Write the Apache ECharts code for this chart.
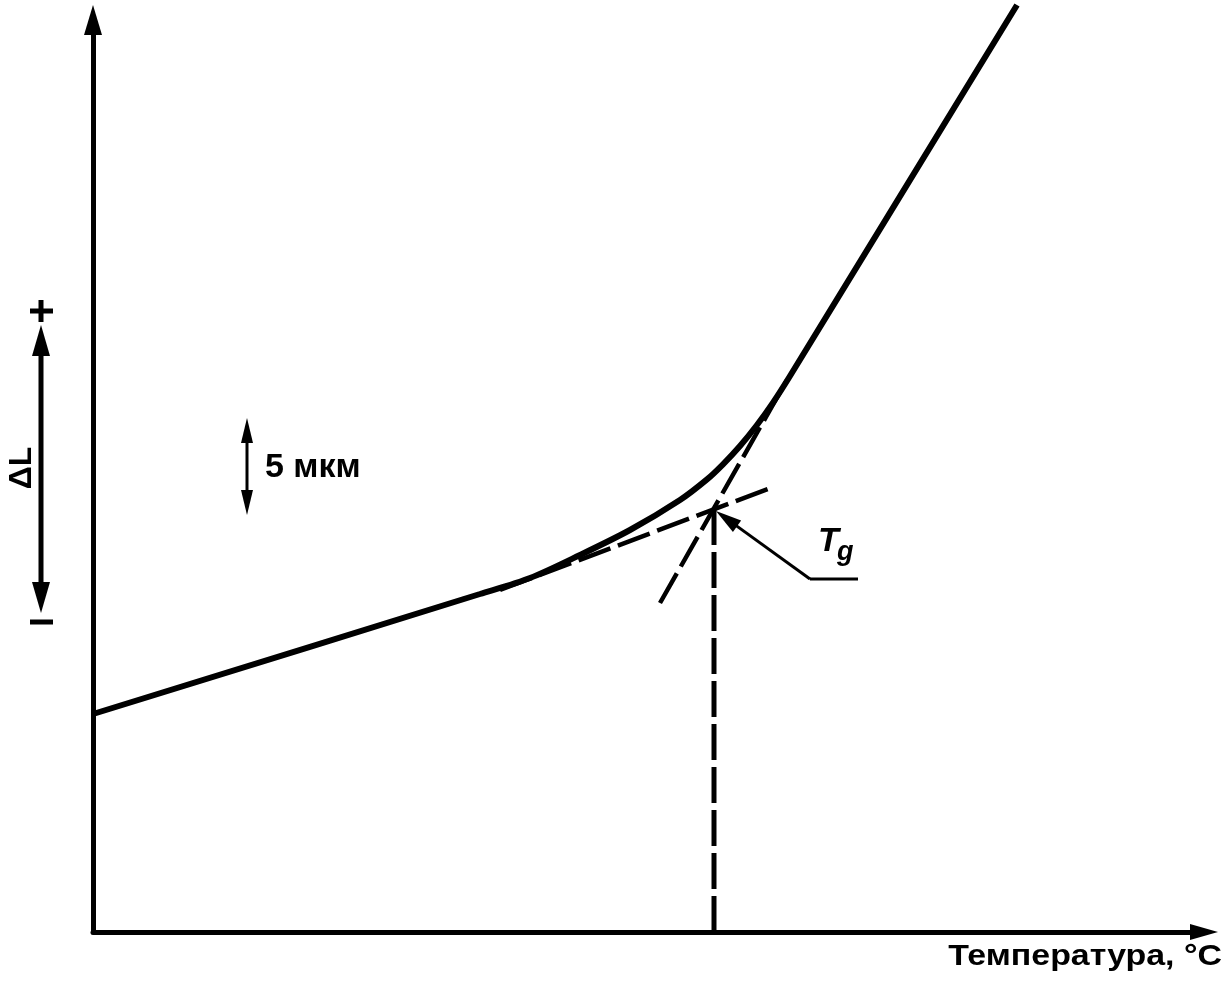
<!DOCTYPE html>
<html>
<head>
<meta charset="utf-8">
<script src="https://cdn.jsdelivr.net/npm/echarts@6/dist/echarts.min.js"></script>
<style>
html,body{margin:0;padding:0;background:#fff;}
#chart{width:1232px;height:988px;}
</style>
</head>
<body>
<div id="chart"></div>
<script>
// Temperature (arbitrary units along the axis) and length change ΔL (arbitrary units)
const temperature = [0, 387, 437, 487, 537, 587, 614, 630, 647, 664, 680, 697, 924];
const deltaL      = [218, 338, 354, 377, 402, 432, 452.6, 467.7, 486, 507, 529.4, 556, 927];
// Tangent lines (dashed)
const glassyTangentT = [407, 680];
const glassyTangentL = [342, 445];
const rubberyTangentT = [567, 694];
const rubberyTangentL = [329, 552];
// Glass transition point
const tgT = 621;
const tgL = 422;
// Label leader
const leaderT = [717, 765];
const leaderL = [353, 353];
const arrowEndT = 633.5, arrowEndL = 413.4;

const xAxisTitle = 'Температура, °C';
const yAxisTitle = 'ΔL';
const scaleLabel = '5 мкм';

const zip = (a, b) => a.map((v, i) => [v, b[i]]);

const chart = echarts.init(document.getElementById('chart'));
const black = '#000';
const FONT = '"Liberation Sans", Arial, sans-serif';
chart.setOption({
  animation: false,
  backgroundColor: '#fff',
  grid: { left: 93, right: 28, top: 20, bottom: 56 },
  xAxis: {
    type: 'value', min: 0, max: 1111,
    axisLine: { show: true, onZero: false, symbol: ['none', 'triangle'], symbolSize: [16, 28],
      lineStyle: { color: black, width: 5 } },
    axisTick: { show: false }, axisLabel: { show: false }, splitLine: { show: false }
  },
  yAxis: {
    type: 'value', min: 0, max: 912,
    axisLine: { show: true, onZero: false, symbol: ['none', 'triangle'], symbolSize: [18, 30],
      lineStyle: { color: black, width: 5 } },
    axisTick: { show: false }, axisLabel: { show: false }, splitLine: { show: false }
  },
  series: [
    {
      type: 'line', data: zip(glassyTangentT, glassyTangentL), showSymbol: false,
      lineStyle: { color: black, width: 4.5, type: [34, 8] }, silent: true
    },
    {
      type: 'line', data: zip(rubberyTangentT, rubberyTangentL), showSymbol: false,
      lineStyle: { color: black, width: 4.5, type: [34, 8] }, silent: true
    },
    {
      type: 'line', data: [[tgT, 0], [tgT, tgL]], showSymbol: false,
      lineStyle: { color: black, width: 5, type: [36, 7] }, silent: true
    },
    {
      type: 'line', data: zip(temperature, deltaL), showSymbol: false, clip: false,
      smooth: 0.3, lineStyle: { color: black, width: 6 }, silent: true, z: 5
    },
    {
      type: 'line', data: zip(leaderT, leaderL), showSymbol: false,
      lineStyle: { color: black, width: 3 }, silent: true,
      markLine: {
        silent: true, animation: false,
        symbol: ['none', 'triangle'], symbolSize: [14, 26],
        label: { show: false },
        lineStyle: { color: black, width: 3, type: 'solid' },
        data: [[{ coord: [leaderT[0], leaderL[0]] }, { coord: [arrowEndT, arrowEndL] }]]
      }
    }
  ],
  graphic: [
    // x axis title
    { type: 'text', x: 1222, y: 957, scaleX: 1.13,
      style: { text: xAxisTitle, fill: black,
      font: 'bold 30px ' + FONT, align: 'right', verticalAlign: 'middle' } },
    // Tg label
    { type: 'text', x: 818, y: 542, style: { text: 'T', fill: black,
      font: 'italic bold 34px ' + FONT, align: 'left', verticalAlign: 'middle' } },
    { type: 'text', x: 837, y: 553, style: { text: 'g', fill: black,
      font: 'italic bold 27px ' + FONT, align: 'left', verticalAlign: 'middle' } },
    // scale bar 5 мкм
    { type: 'line', shape: { x1: 247, y1: 440, x2: 247, y2: 493 }, style: { stroke: black, lineWidth: 3 } },
    { type: 'polygon', shape: { points: [[247, 418], [253, 443], [241, 443]] }, style: { fill: black } },
    { type: 'polygon', shape: { points: [[247, 515], [253, 490], [241, 490]] }, style: { fill: black } },
    { type: 'text', x: 265, y: 468, style: { text: scaleLabel, fill: black,
      font: 'bold 34px ' + FONT, align: 'left', verticalAlign: 'middle' } },
    // ΔL arrow
    { type: 'line', shape: { x1: 41, y1: 350, x2: 41, y2: 590 }, style: { stroke: black, lineWidth: 5 } },
    { type: 'polygon', shape: { points: [[41, 325], [50, 356], [32, 356]] }, style: { fill: black } },
    { type: 'polygon', shape: { points: [[41, 613], [50, 582], [32, 582]] }, style: { fill: black } },
    { type: 'line', shape: { x1: 30, y1: 311, x2: 53, y2: 311 }, style: { stroke: black, lineWidth: 5 } },
    { type: 'line', shape: { x1: 41, y1: 300, x2: 41, y2: 322 }, style: { stroke: black, lineWidth: 5 } },
    { type: 'line', shape: { x1: 30, y1: 622, x2: 53, y2: 622 }, style: { stroke: black, lineWidth: 5 } },
    { type: 'text', x: 22, y: 468, rotation: Math.PI / 2, style: { text: yAxisTitle, fill: black,
      font: 'bold 32px ' + FONT, align: 'center', verticalAlign: 'middle' } }
  ]
});
</script>
</body>
</html>
